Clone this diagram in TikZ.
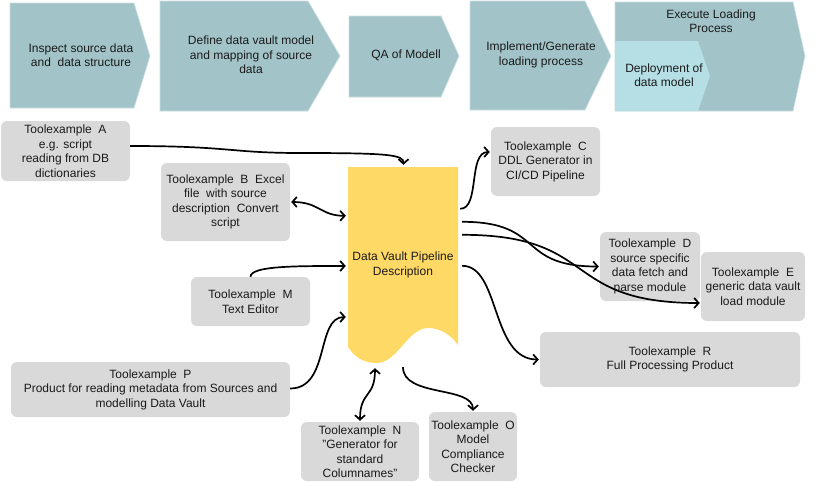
\documentclass[tikz,border=0pt]{standalone}
\usepackage{fontspec}
\setmainfont{Liberation Sans}
\usetikzlibrary{arrows.meta,calc}
\definecolor{chev}{HTML}{A2C4C9}
\definecolor{chevin}{HTML}{B5DFE5}
\definecolor{boxg}{HTML}{D9D9D9}
\definecolor{docy}{HTML}{FFD966}
\definecolor{txt}{HTML}{1A1A1A}
\begin{document}
\begin{tikzpicture}[x=1pt,y=-1pt,
  font=\fontsize{12}{14.5}\selectfont, text=txt,
  tool/.style={fill=boxg, rounded corners=6pt, align=center, inner sep=0pt},
  chevtxt/.style={align=center, inner sep=0pt},
  chevshape/.style={fill=chev, draw=chev!55!white, line width=0.6pt},
  conn/.style={line width=1.7pt, -{Straight Barb[length=4.5pt,width=10pt]}},
  conntwo/.style={line width=1.7pt, {Straight Barb[length=4.5pt,width=10pt]}-{Straight Barb[length=4.5pt,width=10pt]}}]
\useasboundingbox (0,0) rectangle (825,482);
\fill[white] (0,0) rectangle (825,482);

% process chevrons
\draw[chevshape] (10,3) -- (134,3) -- (150,56) -- (134,108) -- (10,108) -- cycle;
\draw[chevshape] (160,1) -- (308,1) -- (340,56) -- (308,111) -- (160,111) -- cycle;
\draw[chevshape] (349,16) -- (441,16) -- (459,56) -- (441,97) -- (349,97) -- cycle;
\draw[chevshape] (470,1) -- (585,1) -- (611,56) -- (585,110) -- (470,110) -- cycle;
\draw[chevshape] (615,2) -- (793,2) -- (805,56) -- (793,111) -- (615,111) -- cycle;
\fill[chevin] (615,41) -- (698,41) -- (710,76) -- (698,111) -- (615,111) -- cycle;

\node[chevtxt] (s1) at (81,55) {Inspect source data\\and~~data structure};
\node[chevtxt] (s2) at (251,55) {Define data vault model\\and mapping of source\\data};
\node[chevtxt] (s3) at (406,55) {QA of Modell};
\node[chevtxt] (s4) at (541,55) {Implement/Generate\\loading process};
\node[chevtxt] (s5) at (711,21) {Execute Loading\\Process};
\node[chevtxt] (s6) at (664,75) {Deployment of\\data model};

% document shape
\fill[docy] (348,167) -- (458,167) -- (458,345)
  .. controls (450,334) and (440,328) .. (428,328)
  .. controls (408,328) and (397,363) .. (377,363)
  .. controls (362,363) and (354,356) .. (348,347) -- cycle;
\node[minimum width=110, minimum height=196, inner sep=0pt, align=center] (doc) at (403,265) {Data Vault Pipeline\\Description};

% tools
\node[tool, minimum width=129, minimum height=60] (A) at (65.5,151) {Toolexample~~A\\e.g. script\\reading from DB\\dictionaries};
\node[tool, minimum width=129, minimum height=78] (B) at (225.5,202) {Toolexample~~B~~Excel\\file~~with source\\description~~Convert\\script};
\node[tool, minimum width=109, minimum height=69] (C) at (545.5,161.5) {Toolexample~~C\\DDL Generator in\\CI/CD Pipeline};
\node[tool, minimum width=100, minimum height=69] (D) at (650,266.5) {Toolexample~~D\\source specific\\data fetch and\\parse module};
\node[tool, minimum width=104, minimum height=69] (E) at (753,286.5) {Toolexample~~E\\generic data vault\\load module};
\node[tool, minimum width=119, minimum height=49] (M) at (250.5,301.5) {Toolexample~~M\\Text Editor};
\node[tool, minimum width=279, minimum height=55] (P) at (150.5,389.5) {Toolexample~~P\\Product for reading metadata from Sources and\\modelling Data Vault};
\node[tool, minimum width=118, minimum height=59] (N) at (360,451.5) {Toolexample~~N\\"Generator for\\standard\\Columnames"};
\node[tool, minimum width=88, minimum height=69] (O) at (473,446.5) {Toolexample~~O\\Model\\Compliance\\Checker};
\node[tool, minimum width=260, minimum height=55] (R) at (670,359.5) {Toolexample~~R\\Full Processing Product};

% connectors
\draw[conn] ($(A.east)+(0,-5)$) .. controls +(100,0) and +(-70,0) .. (300,153)
  .. controls +(90,0) and +(0,-10) .. ($(doc.north)+(0.5,-2)$);
\draw[conntwo] ($(B.east)+(1,0)$) .. controls +(28,0) and +(-25,0) .. ($(doc.north west)+(-2,49)$);
\draw[conn] ($(doc.north east)+(2,42)$) .. controls +(20,0) and +(-22,0) .. ($(C.west)+(-1,-9.5)$);
\draw[conn] ($(doc.north east)+(4,55)$) .. controls +(83,0) and +(-83,0) .. ($(D.west)+(-1,0)$);
\draw[conn] ($(doc.north east)+(4,68)$) .. controls +(138,0) and +(-140,0) .. ($(E.west)+(-1,16.5)$);
\draw[conn] ($(doc.north east)+(4,99)$) .. controls +(38,0) and +(-48,0) .. ($(R.west)+(-1,0)$);
\draw[conn] (M.north) .. controls +(0,-11) and +(-50,0) .. ($(doc.west)+(-2,1)$);
\draw[conn] ($(P.east)+(0,-1)$) .. controls +(40,0) and +(-30,0) .. ($(doc.west)+(-2,52)$);
\draw[conntwo] ($(N.north)+(0,-1)$) .. controls +(0,-30) and +(0,30) .. ($(doc.south)+(-28,5)$);
\draw[conn] ($(doc.south)+(0,4)$) .. controls +(0,30) and +(0,-25) .. ($(O.north)+(0,-1)$);
\end{tikzpicture}
\end{document}
